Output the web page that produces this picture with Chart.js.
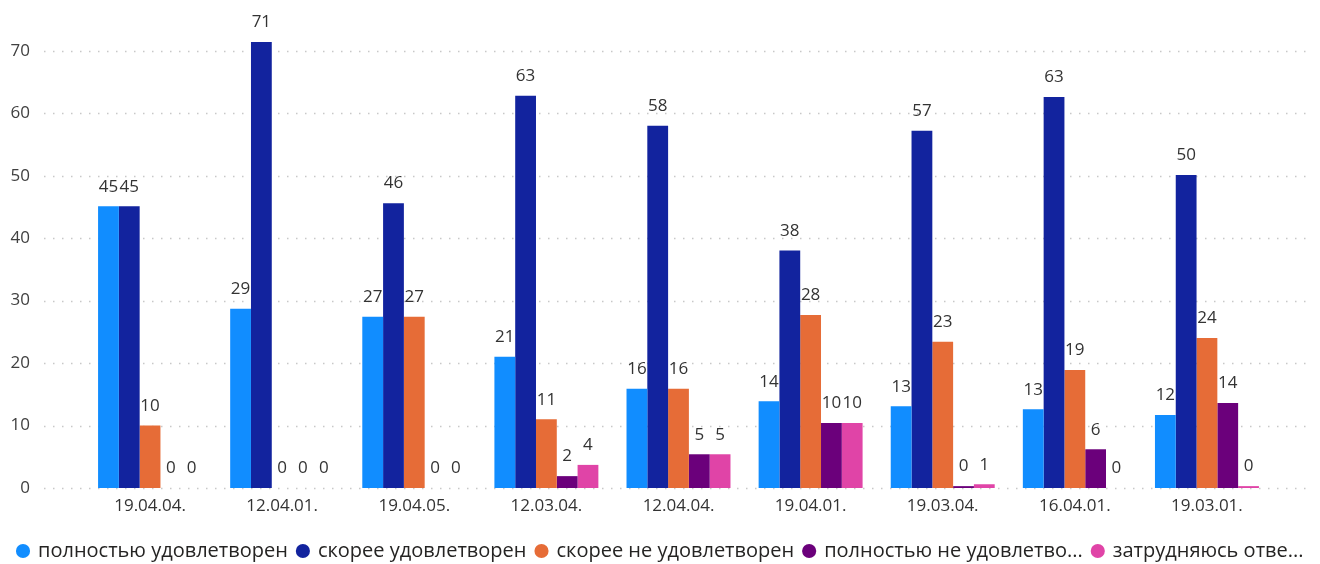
<!DOCTYPE html>
<html>
<head>
<meta charset="utf-8">
<script src="https://cdn.jsdelivr.net/npm/chart.js@4"></script>
<style>
  html, body { margin: 0; padding: 0; background: #fff; }
</style>
</head>
<body>
<canvas id="myChart" width="1320" height="564"></canvas>
<script>
'use strict';

// categories (dates)
const categories = ['19.04.04.', '12.04.01.', '19.04.05.', '12.03.04.', '12.04.04.', '19.04.01.', '19.03.04.', '16.04.01.', '19.03.01.'];

// series names as shown in the legend
const seriesNames = [
  'полностью удовлетворен',
  'скорее удовлетворен',
  'скорее не удовлетворен',
  'полностью не удовлетво...',
  'затрудняюсь отве...'
];

// series values
const fullySatisfied = [45.1, 28.7, 27.4, 21.0, 15.9, 13.9, 13.1, 12.6, 11.7];
const ratherSatisfied = [45.1, 71.4, 45.6, 62.8, 58.0, 38.0, 57.2, 62.6, 50.1];
const ratherNot = [10.0, 0, 27.4, 11.0, 15.9, 27.7, 23.4, 18.9, 24.0];
const fullyNot = [0, 0, 0, 1.9, 5.4, 10.4, 0.3, 6.2, 13.6];
const hardToSay = [0, 0, 0, 3.7, 5.4, 10.4, 0.6, 0, 0.3];

const seriesColors = ['#118DFF', '#12239E', '#E66C37', '#6B007B', '#E044A7'];

// y ticks
const yTicks = [0, 10, 20, 30, 40, 50, 60, 70];

const seriesData = [fullySatisfied, ratherSatisfied, ratherNot, fullyNot, hardToSay];

const font = "'Open Sans', 'Noto Sans', sans-serif";

// dotted gridlines across the whole width
const dottedGrid = {
  id: 'dottedGrid',
  beforeDatasetsDraw(chart) {
    const ctx = chart.ctx;
    const y = chart.scales.y;
    ctx.save();
    ctx.strokeStyle = '#c8c8c8';
    ctx.lineWidth = 1.5;
    ctx.setLineDash([1.5, 7.5]);
    for (let i = 0; i < yTicks.length; i++) {
      const py = Math.round(y.getPixelForValue(yTicks[i])) + 0.5;
      ctx.beginPath();
      ctx.moveTo(44, py);
      ctx.lineTo(1312, py);
      ctx.stroke();
    }
    ctx.restore();
  }
};

// value labels on top of bars
const valueLabels = {
  id: 'valueLabels',
  afterDatasetsDraw(chart) {
    const ctx = chart.ctx;
    ctx.save();
    ctx.font = '17px ' + font;
    ctx.fillStyle = '#333333';
    ctx.textAlign = 'center';
    ctx.textBaseline = 'bottom';
    chart.data.datasets.forEach((ds, i) => {
      const meta = chart.getDatasetMeta(i);
      meta.data.forEach((bar, j) => {
        ctx.fillText(String(Math.round(ds.data[j])), bar.x, bar.y - 11);
      });
    });
    ctx.restore();
  }
};

const datasets = [];
for (let i = 0; i < seriesNames.length; i++) {
  datasets.push({
    label: seriesNames[i],
    data: seriesData[i],
    backgroundColor: seriesColors[i],
    borderWidth: 0,
    barPercentage: 1,
    categoryPercentage: 0.787
  });
}

let ctx = document.getElementById('myChart').getContext('2d');
let chart = new Chart(ctx, {
  type: 'bar',
  data: {
    labels: categories,
    datasets: datasets
  },
  options: {
    responsive: false,
    animation: false,
    layout: {
      padding: { left: 8, right: 0, top: 7, bottom: -7 }
    },
    plugins: {
      tooltip: { enabled: false },
      legend: {
        position: 'bottom',
        align: 'start',
        labels: {
          usePointStyle: true,
          pointStyle: 'circle',
          boxWidth: 10,
          boxHeight: 10,
          padding: 10,
          color: '#252423',
          font: { family: font, size: 20 }
        }
      }
    },
    scales: {
      x: {
        grid: { display: false, drawTicks: false },
        border: { display: false },
        ticks: {
          color: '#333333',
          padding: 8,
          font: { family: font, size: 17 }
        },
        afterFit(scale) { scale.height = 43; }
      },
      y: {
        min: 0,
        max: 77,
        grid: { display: false, drawTicks: false },
        border: { display: false },
        afterBuildTicks(scale) {
          scale.ticks = yTicks.map(v => ({ value: v }));
        },
        ticks: {
          color: '#404040',
          padding: 54,
          font: { family: font, size: 17 }
        },
        afterFit(scale) {
          scale.width = 76;
          scale.paddingTop = 0;
          scale.paddingBottom = 0;
        }
      },
      // empty axis on the right, only to keep the bars away from the edge
      yRight: {
        position: 'right',
        min: 0,
        max: 77,
        grid: { display: false, drawTicks: false },
        border: { display: false },
        ticks: { display: false },
        afterFit(scale) {
          scale.width = 47;
          scale.paddingTop = 0;
          scale.paddingBottom = 0;
        }
      }
    }
  },
  plugins: [dottedGrid, valueLabels]
});
</script>
</body>
</html>
